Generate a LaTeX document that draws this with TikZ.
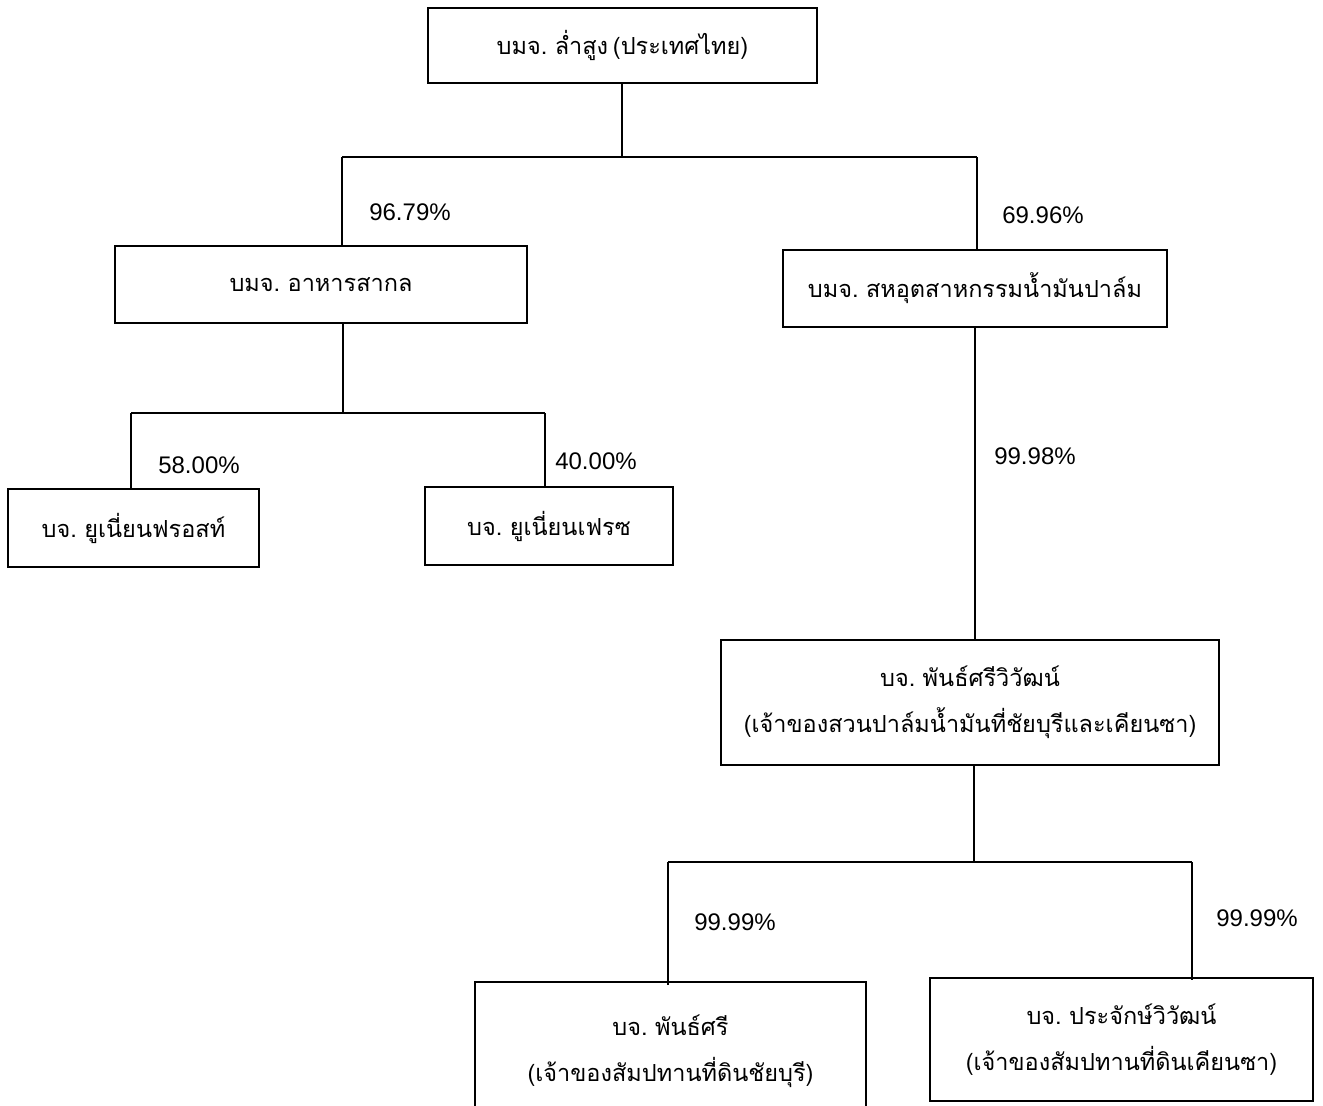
\documentclass[tikz,border=0pt]{standalone}
\usepackage{fontspec}
\setmainfont{Liberation Sans}
\newfontfamily\thaifont[Script=Thai,WordSpace=0.6]{Loma}
\begin{document}
\begin{tikzpicture}[x=1pt,y=-1pt,
  box/.style={draw,line width=1.6pt,rectangle,align=center,inner sep=0pt,
    font=\thaifont\fontsize{23.5}{46}\selectfont},
  conn/.style={line width=1.6pt},
  pct/.style={font=\fontsize{24}{26}\selectfont}]
\useasboundingbox (0,0) rectangle (1323,1106);
% boxes
\node[box,minimum width=389pt,minimum height=75pt] (top) at (622.5,45.5) {บมจ. ล่ำสูง (ประเทศไทย)};
\node[box,minimum width=412pt,minimum height=77pt] (food) at (321,284.5) {บมจ. อาหารสากล};
\node[box,minimum width=251pt,minimum height=78pt] (frost) at (133.5,528) {บจ. ยูเนี่ยนฟรอสท์};
\node[box,minimum width=248pt,minimum height=78pt] (fresh) at (549,526) {บจ. ยูเนี่ยนเฟรซ};
\node[box,minimum width=384pt,minimum height=77pt] (palm) at (975,288.5) {บมจ. สหอุตสาหกรรมน้ำมันปาล์ม};
\node[box,minimum width=498pt,minimum height=125pt] (pan) at (970,702.5) {บจ. พันธ์ศรีวิวัฒน์\\(เจ้าของสวนปาล์มน้ำมันที่ชัยบุรีและเคียนซา)};
\node[box,minimum width=391pt,minimum height=138pt] (pansri) at (670.5,1051) {บจ. พันธ์ศรี\\(เจ้าของสัมปทานที่ดินชัยบุรี)};
\node[box,minimum width=383pt,minimum height=123pt] (prajak) at (1121.5,1039.5) {บจ. ประจักษ์วิวัฒน์\\(เจ้าของสัมปทานที่ดินเคียนซา)};
% junctions
\coordinate (j1) at (622,157);
\coordinate (j1L) at (342,157);
\coordinate (j1R) at (977,157);
\coordinate (j2) at (343,413);
\coordinate (j2L) at (131,413);
\coordinate (j2R) at (545,413);
\coordinate (j3) at (974,862);
\coordinate (j3L) at (668,862);
\coordinate (j3R) at (1192,862);
% connectors
\draw[conn] (top.south -| j1) -- (j1);
\draw[conn] (j1L) -- (j1R);
\draw[conn] (j1L) -- (j1L |- food.north);
\draw[conn] (j1R) -- (j1R |- palm.north);
\draw[conn] (food.south -| j2) -- (j2);
\draw[conn] (j2L) -- (j2R);
\draw[conn] (j2L) -- (j2L |- frost.north);
\draw[conn] (j2R) -- ([yshift=-1pt]j2R |- fresh.north);
\draw[conn] (palm.south) -- (palm.south |- pan.north);
\draw[conn] (pan.south -| j3) -- (j3);
\draw[conn] (j3L) -- (j3R);
\draw[conn] (j3L) -- ([yshift=-4pt]j3L |- pansri.north);
\draw[conn] (j3R) -- ([yshift=-3pt]j3R |- prajak.north);
% labels
\node[pct] (l1) at (410,212) {96.79\%};
\node[pct] (l2) at (1043,215) {69.96\%};
\node[pct] (l3) at (199,465) {58.00\%};
\node[pct] (l4) at (596,461) {40.00\%};
\node[pct] (l5) at (1035,456) {99.98\%};
\node[pct] (l6) at (735,922) {99.99\%};
\node[pct] (l7) at (1257,918) {99.99\%};
\end{tikzpicture}
\end{document}
